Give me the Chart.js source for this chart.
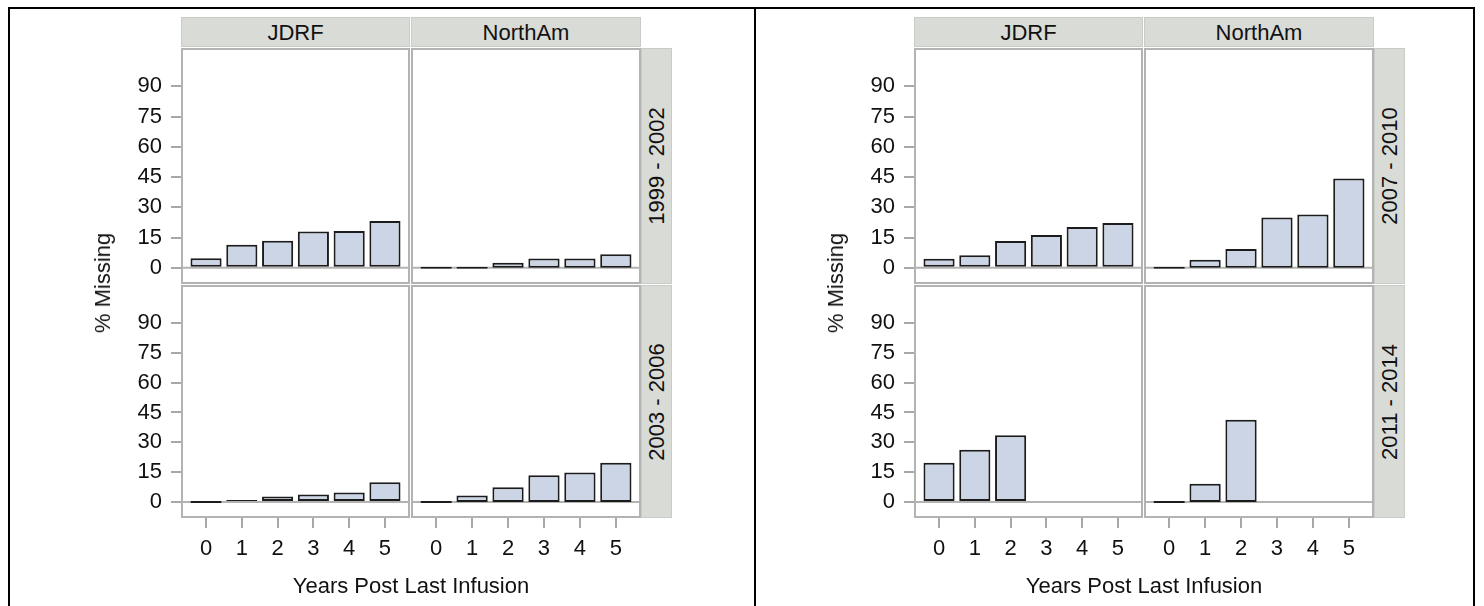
<!DOCTYPE html>
<html>
<head>
<meta charset="utf-8">
<script src="https://cdn.jsdelivr.net/npm/chart.js@4.4.0/dist/chart.umd.min.js"></script>
<style>
    body { margin: 0; width: 1484px; height: 606px; overflow: hidden; position: relative; background: #fff;
           font-family: 'Liberation Sans', Arial, sans-serif; color: #111; }
    .frame { position: absolute; left: 8px; top: 7px; width: 1463px; height: 640px; border: 2px solid #000; }
    .divider { position: absolute; left: 754px; top: 7px; width: 2px; height: 620px; background: #000; }
    .head { position: absolute; top: 17px; height: 30px; background: #d9dbd6; border: 1px solid #c9cbc6;
            box-sizing: border-box; font-size: 22px; line-height: 30px; text-align: center; }
    .strip { position: absolute; width: 31px; background: #d9dbd6; border: 1px solid #c9cbc6; box-sizing: border-box; }
    .strip span { position: absolute; left: 50%; top: 50%; transform: translate(-50%, -50%) rotate(-90deg);
                  white-space: nowrap; font-size: 22px; }
    .label { position: absolute; font-size: 22px; white-space: nowrap; transform: translate(-50%, -50%); }
    .label.rot { transform: translate(-50%, -50%) rotate(-90deg); }
    .cell { position: absolute; }
</style>
</head>
<body>
<div class="frame"></div>
<div class="divider"></div>

<script>
        // Data (percent missing by years post last infusion)
        const years = [0, 1, 2, 3, 4, 5];
        const groups = ['JDRF', 'NorthAm'];
        const periods = ['1999 - 2002', '2003 - 2006', '2007 - 2010', '2011 - 2014'];
        const yTicks = [0, 15, 30, 45, 60, 75, 90];

        const jdrf1999 = [4.8, 11.5, 13.5, 18, 18.3, 23.2];
        const northAm1999 = [0, 0, 2.5, 4.7, 4.7, 6.8];
        const jdrf2003 = [0, 0.8, 2.8, 3.8, 4.8, 10];
        const northAm2003 = [0, 3.3, 7.5, 13.5, 14.8, 19.7];
        const jdrf2007 = [4.5, 6.3, 13.3, 16.3, 20.3, 22.3];
        const northAm2007 = [0, 4, 9.3, 25, 26.5, 44.3];
        const jdrf2011 = [19.7, 26.3, 33.5];
        const northAm2011 = [0, 9.2, 41.3];

        // panel -> row -> column
        const panelData = [
            [[jdrf1999, northAm1999], [jdrf2003, northAm2003]],
            [[jdrf2007, northAm2007], [jdrf2011, northAm2011]]
        ];

        // Layout (pixels)
        const panelOffset = [0, 733];
        const colLeft = [181, 411];
        const colWidth = [229, 230];
        const rowTop = [48, 285];
        const rowHeight = [236, 233];
        const yAxisWidth = 90;
        const xAxisHeight = 60;

        Chart.defaults.font.family = "'Liberation Sans', Arial, sans-serif";
        Chart.defaults.font.size = 22;
        Chart.defaults.color = '#111';

        // Cell frame and zero reference line
        const cellFrame = {
            id: 'cellFrame',
            beforeDatasetsDraw(chart) {
                const { ctx, chartArea: a, scales } = chart;
                const y0 = scales.y.getPixelForValue(0);
                ctx.save();
                ctx.strokeStyle = '#b3b3b3';
                ctx.lineWidth = 2;
                ctx.beginPath();
                ctx.moveTo(a.left, y0);
                ctx.lineTo(a.right, y0);
                ctx.stroke();
                ctx.strokeRect(a.left + 1, a.top + 1, a.width - 2, a.height - 2);
                ctx.restore();
            }
        };

        function addDiv(cls, styles, html) {
            const d = document.createElement('div');
            d.className = cls;
            Object.assign(d.style, styles);
            d.innerHTML = html;
            document.body.appendChild(d);
            return d;
        }

        function makeCell(values, left, top, isLeft, isBottom, w, h) {
            const cw = w + (isLeft ? yAxisWidth : 0);
            const ch = h + (isBottom ? xAxisHeight : 0);
            const box = addDiv('cell', {
                left: (left - (isLeft ? yAxisWidth : 0)) + 'px',
                top: top + 'px',
                width: cw + 'px',
                height: ch + 'px'
            }, '');
            const canvas = document.createElement('canvas');
            box.appendChild(canvas);

            new Chart(canvas.getContext('2d'), {
                type: 'bar',
                data: {
                    datasets: [{
                        data: values.map((v, i) => ({ x: years[i], y: v })),
                        backgroundColor: '#cbd5e5',
                        borderColor: '#1c1c1c',
                        borderWidth: 2,
                        borderSkipped: false,
                        categoryPercentage: 1,
                        barPercentage: 0.87,
                        minBarLength: 2
                    }]
                },
                options: {
                    responsive: true,
                    maintainAspectRatio: false,
                    animation: false,
                    events: [],
                    layout: { padding: 0 },
                    plugins: { legend: { display: false }, tooltip: { enabled: false } },
                    scales: {
                        x: {
                            type: 'linear',
                            min: -0.7,
                            max: 5.7,
                            offset: false,
                            display: isBottom,
                            afterBuildTicks: s => { s.ticks = years.map(v => ({ value: v })); },
                            afterFit: s => {
                                s.height = isBottom ? xAxisHeight : 0;
                                s.paddingLeft = 0;
                                s.paddingRight = 0;
                            },
                            border: { display: false },
                            grid: { offset: false, drawOnChartArea: false, tickLength: 10, color: '#a8a8a8', lineWidth: 2 },
                            ticks: { padding: 8, maxRotation: 0, autoSkip: false }
                        },
                        y: {
                            min: -8,
                            max: 109,
                            display: isLeft,
                            afterBuildTicks: s => { s.ticks = yTicks.map(v => ({ value: v })); },
                            afterFit: s => {
                                s.width = isLeft ? yAxisWidth : 0;
                                s.paddingTop = 0;
                                s.paddingBottom = 0;
                            },
                            border: { display: false },
                            grid: { drawOnChartArea: false, tickLength: 10, color: '#a8a8a8', lineWidth: 2 },
                            ticks: { padding: 9, autoSkip: false }
                        }
                    }
                },
                plugins: [cellFrame]
            });
        }

        panelOffset.forEach((dx, p) => {
            // column headers
            groups.forEach((g, c) => {
                addDiv('head', { left: (colLeft[c] + dx) + 'px', width: colWidth[c] + 'px' }, g);
            });
            // row strips
            rowTop.forEach((t, r) => {
                addDiv('strip', { left: (641 + dx) + 'px', top: t + 'px', height: rowHeight[r] + 'px' },
                    '<span>' + periods[p * 2 + r] + '</span>');
            });
            // cells
            rowTop.forEach((t, r) => {
                groups.forEach((g, c) => {
                    makeCell(panelData[p][r][c], colLeft[c] + dx, t, c === 0, r === 1, colWidth[c], rowHeight[r]);
                });
            });
            // axis titles
            addDiv('label rot', { left: (103 + dx) + 'px', top: '283px' }, '% Missing');
            addDiv('label', { left: (411 + dx) + 'px', top: '586px' }, 'Years Post Last Infusion');
        });
</script>
</body>
</html>
